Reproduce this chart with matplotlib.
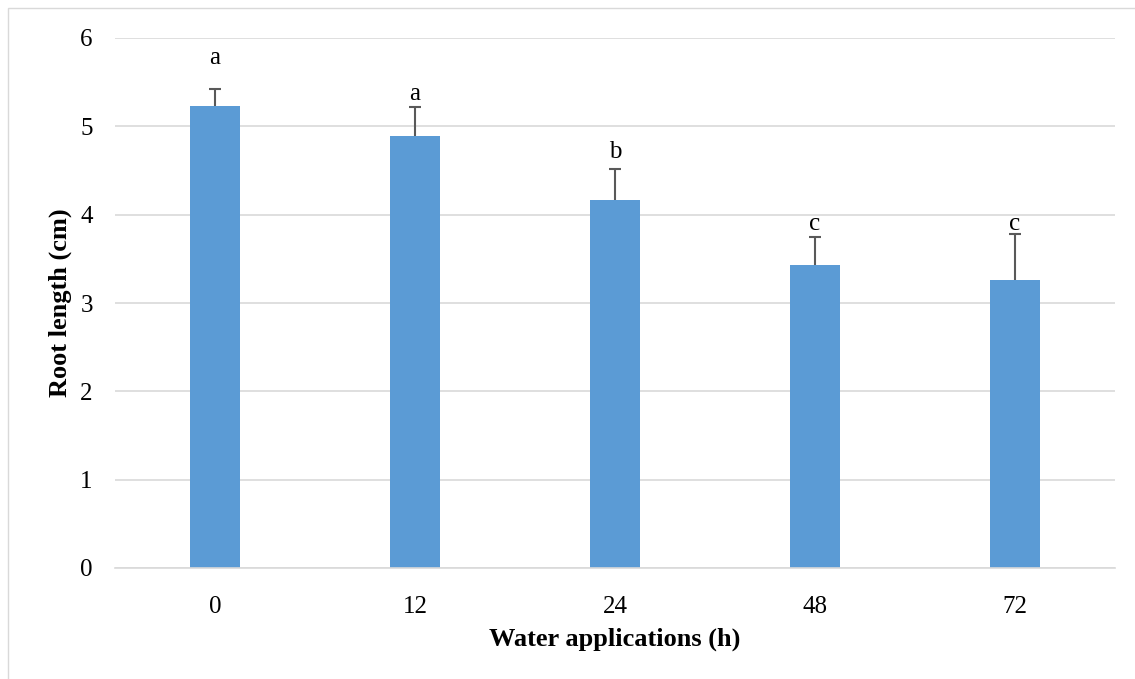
import matplotlib.pyplot as plt
from matplotlib.patches import Rectangle

# data
hours = ['0', '12', '24', '48', '72']
root_len = [5.23, 4.89, 4.17, 3.43, 3.26]
err = [0.19, 0.33, 0.35, 0.32, 0.52]
letters = ['a', 'a', 'b', 'c', 'c']
letter_y = [5.71, 5.30, 4.64, 3.83, 3.83]

plt.rcParams['font.family'] = ['Liberation Serif', 'DejaVu Serif']

fig = plt.figure(figsize=(11.35, 6.79), dpi=100)
ax = fig.add_axes([115/1135, 1-568/679, 1000/1135, 530/679])

# light frame round the chart
fig.patches.append(Rectangle((8/1135, -0.01), 1.1, 1-8/679+0.01, transform=fig.transFigure,
                             fill=False, edgecolor='#d9d9d9', lw=1))

x = list(range(len(hours)))
ax.bar(x, root_len, width=0.25, color='#5b9bd5', zorder=3)

# upper-only error bars
tops = [v + e for v, e in zip(root_len, err)]
ax.vlines(x, root_len, tops, color='#595959', lw=1.5, zorder=4)
ax.hlines(tops, [i - 0.03 for i in x], [i + 0.03 for i in x], color='#595959', lw=1.5, zorder=4)

for i, (lt, ly) in enumerate(zip(letters, letter_y)):
    ax.text(i, ly, lt, ha='center', va='baseline', fontsize=18)

ax.set_xlim(-0.5, len(hours)-0.5)
ax.set_ylim(0, 6)
ax.set_yticks(range(7))
ax.set_xticks(x)
ax.set_xticklabels(hours)
ax.yaxis.grid(True, color='#d9d9d9', lw=1.2, zorder=0)
ax.set_axisbelow(True)
for s in ['top', 'right', 'left']:
    ax.spines[s].set_visible(False)
ax.spines['bottom'].set_color('#d9d9d9')
ax.spines['bottom'].set_linewidth(1.2)
ax.spines['bottom'].set_zorder(5)
ax.tick_params(length=0, labelsize=18)
ax.tick_params(axis='x', pad=20)
ax.tick_params(axis='y', pad=16)
ax.set_xlabel('Water applications (h)', fontsize=19, fontweight='bold', labelpad=7)
ax.set_ylabel('Root length (cm)', fontsize=19, fontweight='bold', labelpad=6)

fig.savefig('out.png', dpi=100)
